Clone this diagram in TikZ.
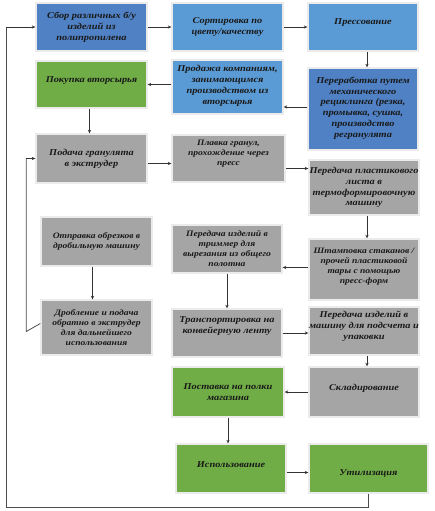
\documentclass[tikz,border=0pt]{standalone}
\usepackage{fontspec}
\setmainfont{Liberation Serif}[FakeStretch=1.15]
\usetikzlibrary{arrows.meta,shadows,calc}
\definecolor{dblue}{HTML}{4F81C4}
\definecolor{lblue}{HTML}{5B9BD5}
\definecolor{mgreen}{HTML}{70AD47}
\definecolor{mgray}{HTML}{A5A5A5}
\definecolor{lnc}{HTML}{333333}
\tikzset{
  box/.style={draw=white!92!black, line width=1.4pt, inner sep=0pt,
    drop shadow={opacity=0.25, shadow xshift=1.2pt, shadow yshift=-1.2pt}},
  txt/.style={align=center, inner sep=0pt, text=black!90,
    font=\bfseries\itshape\fontsize{9}{10.8}\selectfont},
  smalltxt/.style={font=\bfseries\itshape\fontsize{8.3}{10}\selectfont},
  arr/.style={-{Stealth[length=3.5pt,width=3.2pt]}, line width=0.6pt, draw=lnc},
  loopline/.style={line width=0.8pt, draw=black!70}
}
% \mybox[text style]{name}{x1}{y1}{x2}{y2}{fill}{text shift}{text}
\newcommand\mybox[9][]{%
  \node[box,fill=#7,minimum width={#5-#3},minimum height={#6-#4}] (#2) at ({(#3+#5)/2},{(#4+#6)/2}) {};
  \node[txt,#1] (#2t) at ($(#2.center)+(0,#8)$) {#9};}
\begin{document}
\begin{tikzpicture}[x=1pt,y=-1pt]
\useasboundingbox[fill=white] (0,0) rectangle (434,511);
\mybox{b1}{36}{3}{147}{51}{dblue}{0}{Сбор различных б/у\\изделий из\\полипропилена}
\mybox{b2}{172}{3}{283}{51}{lblue}{0}{Сортировка по\\цвету/качеству}
\mybox{b3}{308}{3}{418}{51}{lblue}{-4}{Прессование}
\mybox{b4}{36}{61}{147}{108}{mgreen}{-4}{Покупка вторсырья}
\mybox{b5}{172}{60}{283}{114}{lblue}{-1}{Продажа компаниям,\\занимающимся\\производством из\\вторсырья}
\mybox{b6}{308}{68}{418}{150}{dblue}{-1}{Переработка путем\\механического\\рециклинга (резка,\\промывка, сушка,\\производство\\регранулята}
\mybox{b7}{36}{134}{147}{183}{mgray}{0}{Подача гранулята\\в экструдер}
\mybox[smalltxt]{b8}{172}{135}{285}{182}{mgray}{-5}{Плавка гранул,\\прохождение через\\пресс}
\mybox{b9}{309}{160}{419}{215}{mgray}{0}{Передача пластикового\\листа в\\термоформировочную\\машину}
\mybox[smalltxt]{b10}{41}{217}{152}{266}{mgray}{0}{Отправка обрезков в\\дробильную машину}
\mybox[smalltxt]{b11}{172}{225}{282}{273}{mgray}{0}{Передача изделий в\\триммер для\\вырезания из общего\\полотна}
\mybox[smalltxt]{b12}{309}{239}{419}{300}{mgray}{-3}{Штамповка стаканов /\\прочей пластиковой\\тары с помощью\\пресс-форм}
\mybox[smalltxt]{b13}{41}{300}{152}{355}{mgray}{0}{Дробление и подача\\обратно в экструдер\\для дальнейшего\\использования}
\mybox{b14}{172}{309}{282}{357}{mgray}{-7}{Транспортировка на\\конвейерную ленту}
\mybox{b15}{309}{307}{419}{355}{mgray}{-5}{Передача изделий в\\машину для подсчета и\\упаковки}
\mybox{b16}{172}{367}{284}{417}{mgreen}{0}{Поставка на полки\\магазина}
\mybox{b17}{309}{367}{419}{417}{mgray}{-4}{Складирование}
\mybox{b18}{176}{444}{286}{493}{mgreen}{-4}{Использование}
\mybox{b19}{309}{444}{428}{493}{mgreen}{5}{Утилизация}
% connectors
\draw[arr] (b1.east) -- (b1.east -| b2.west);
\draw[arr] (b2.east) -- (b2.east -| b3.west);
\draw[arr] ([xshift=4pt]b3.south) -- ([xshift=4pt]b3.south |- b6.north);
\draw[arr] ([yshift=2pt]b6.west) -- ([yshift=2pt]b6.west -| b5.east);
\draw[arr] (b5.west |- b4.east) -- (b4.east);
\draw[arr] ([xshift=-2pt]b4.south) -- ([xshift=-2pt]b4.south |- b7.north);
\draw[arr] ([yshift=-5pt]b7.east) -- ([yshift=-5pt]b7.east -| b8.west);
\draw[arr] ([yshift=-10pt]b8.east) -- ([yshift=-10pt]b8.east -| b9.west);
\draw[arr] ([xshift=3pt]b9.south) -- ([xshift=3pt]b9.south |- b12.north);
\draw[arr] ([yshift=2pt]b12.west) -- ([yshift=2pt]b12.west -| b11.east);
\draw[arr] (b11.south) -- (b11.south |- b14.north);
\draw[arr] ([xshift=-4pt]b10.south) -- ([xshift=-4pt]b10.south |- b13.north);
\draw[arr] (b14.east) -- (b14.east -| b15.west);
\draw[arr] ([xshift=3pt]b15.south) -- ([xshift=3pt]b15.south |- b17.north);
\draw[arr] (b17.west) -- (b17.west -| b16.east);
\draw[arr] (b16.south) -- (b16.south |- b18.north);
\draw[arr] ([yshift=-4pt]b18.east) -- ([yshift=-4pt]b18.east -| b19.west);
% outer loop
\coordinate (oBR) at ($(b19.south)+(0,14)$);
\coordinate (oBL) at (6,0 |- oBR);
\coordinate (oTL) at (6,0 |- b1.west);
\draw[loopline] (b19.south) -- (oBR) -- (oBL) -- (oTL);
\draw[arr] (oTL) -- (b1.west);
% inner loop
\coordinate (iB) at ($(b13.west)+(-14,4)$);
\coordinate (iT) at (iB |- b7.west);
\draw[loopline] ([yshift=4pt]b13.west) -- (iB) -- (iT);
\draw[arr] (iT) -- (b7.west);
\end{tikzpicture}
\end{document}
